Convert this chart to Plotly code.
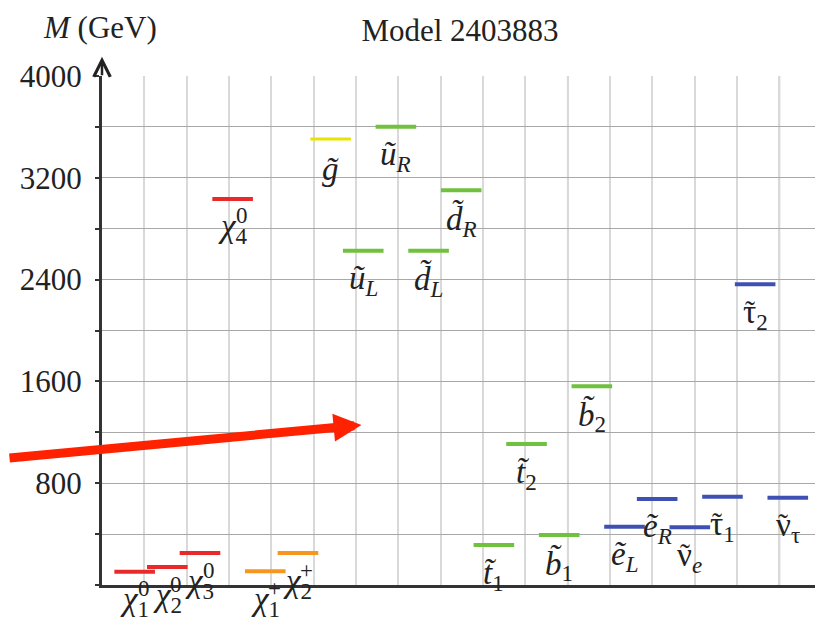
import plotly.graph_objects as go

# ---- data ----
label_main = [
    "<i>χ</i><sub>1</sub>", "<i>χ</i><sub>2</sub>", "<i>χ</i><sub>3</sub>", "<i>χ</i><sub>4</sub>",
    "<i>χ</i><sub>1</sub>", "<i>χ</i><sub>2</sub>",
    "<i>g̃</i>",
    "<i>ũ</i><sub><i>L</i></sub>", "<i>ũ</i><sub><i>R</i></sub>",
    "<i>d̃</i><sub><i>L</i></sub>", "<i>d̃</i><sub><i>R</i></sub>",
    "<i>t̃</i><sub>1</sub>", "<i>t̃</i><sub>2</sub>",
    "<i>b̃</i><sub>1</sub>", "<i>b̃</i><sub>2</sub>",
    "<i>ẽ</i><sub><i>L</i></sub>", "<i>ẽ</i><sub><i>R</i></sub>",
    "ν<sub><i>e</i></sub>",
    "τ<sub>1</sub>", "τ<sub>2</sub>",
    "ν<sub>τ</sub>",
]
label_sup = ["0", "0", "0", "0", "+", "+"] + [""] * 15
label_tilde = [False] * 17 + [True] * 4   # tilde accent drawn over Greek base letter
masses = [105, 141, 251, 3034, 108, 251, 3505, 2627, 3602, 2627, 3102,
          314, 1108, 393, 1561, 458, 676, 453, 694, 2363, 686]
groups = (["neutralino"] * 4 + ["chargino"] * 2 + ["gluino"]
          + ["squark"] * 8 + ["slepton"] * 6)
group_colors = {"neutralino": "#ea2a2a", "chargino": "#f7961e",
                "gluino": "#e8e400", "squark": "#70c13e", "slepton": "#3f50b5"}
group_widths = {"neutralino": 4, "chargino": 4, "gluino": 3, "squark": 4, "slepton": 4}

y_tick_vals = [0, 400, 800, 1200, 1600, 2000, 2400, 2800, 3200, 3600, 4000]
y_tick_text = ["", "", "800", "", "1600", "", "2400", "", "3200", "", "4000"]

title_text = "Model 2403883"
y_title = "<i>M</i> (GeV)"

# ---- layout constants ----
FONT = "Liberation Serif, Times New Roman, serif"
x_pos = list(range(len(masses)))
bar_colors = [group_colors[g] for g in groups]
bar_widths = [group_widths[g] for g in groups]
grid_step = 1.2964
x_min, x_max = -1.0, 20.925

fig = go.Figure()
fig.add_trace(go.Scatter(
    x=x_pos, y=masses, mode="markers",
    marker=dict(symbol="line-ew", size=29,
                line=dict(width=bar_widths, color=bar_colors)),
    hoverinfo="skip", showlegend=False, cliponaxis=False,
))

annotations = []
for xi, m, lab, sup, til in zip(x_pos, masses, label_main, label_sup, label_tilde):
    annotations.append(dict(x=xi, y=m, xref="x", yref="y", text=lab,
                            showarrow=False, xanchor="center", yanchor="middle",
                            yshift=-30, font=dict(family=FONT, size=33, color="#222")))
    if sup:
        annotations.append(dict(x=xi, y=m, xref="x", yref="y", text=sup,
                                showarrow=False, xanchor="center", yanchor="middle",
                                xshift=9, yshift=-17,
                                font=dict(family=FONT, size=23, color="#222")))
    if til:
        annotations.append(dict(x=xi, y=m, xref="x", yref="y", text="˜",
                                showarrow=False, xanchor="center", yanchor="middle",
                                xshift=-5, yshift=-26,
                                font=dict(family=FONT, size=30, color="#222")))

# y label
annotations.append(dict(x=-62 / 723, y=1.096, xref="paper", yref="paper", text=y_title,
                        showarrow=False, xanchor="left", yanchor="middle",
                        font=dict(family=FONT, size=31, color="#222")))
# y axis arrow head
annotations.append(dict(x=0, y=1.038, xref="paper", yref="paper", text="",
                        showarrow=True, ax=0, ay=20, axref="pixel", ayref="pixel",
                        arrowhead=5, arrowsize=1.3, arrowwidth=2.5, arrowcolor="#222"))
# red pointer arrow
annotations.append(dict(x=6.945, y=1257, xref="x", yref="y", text="",
                        showarrow=True, ax=-365, ay=33, axref="pixel", ayref="pixel",
                        arrowhead=2, arrowsize=0.62, arrowwidth=9, arrowcolor="#ff2200"))

shapes = []
for k in (11, 16):
    xv = x_min + k * grid_step
    shapes.append(dict(type="line", xref="x", yref="paper", x0=xv, x1=xv, y0=0, y1=1,
                       line=dict(color="#9a9a9a", width=1.5), layer="below"))

fig.update_layout(
    width=823, height=625,
    margin=dict(l=87, r=13, t=68, b=48),
    paper_bgcolor="white", plot_bgcolor="white",
    title=dict(text=title_text, x=0.5, xref="paper", y=1 - 22 / 625, yanchor="middle",
               font=dict(family=FONT, size=31, color="#222")),
    xaxis=dict(range=[x_min, x_max], tick0=x_min, dtick=grid_step, showticklabels=False,
               ticks="", showgrid=True, gridcolor="#d9d9d9", gridwidth=1.5,
               zeroline=False, showline=True, linecolor="#333", linewidth=3),
    yaxis=dict(range=[0, 4000], tickvals=y_tick_vals, ticktext=y_tick_text,
               ticks="outside", ticklen=4, tickwidth=2, tickcolor="#333",
               ticklabelstandoff=7,
               tickfont=dict(family=FONT, size=31, color="#222"),
               showgrid=True, gridcolor="#a8a8a8", gridwidth=1,
               zeroline=False, showline=True, linecolor="#333", linewidth=3),
    annotations=annotations, shapes=shapes,
)

fig.write_html("out.html")
